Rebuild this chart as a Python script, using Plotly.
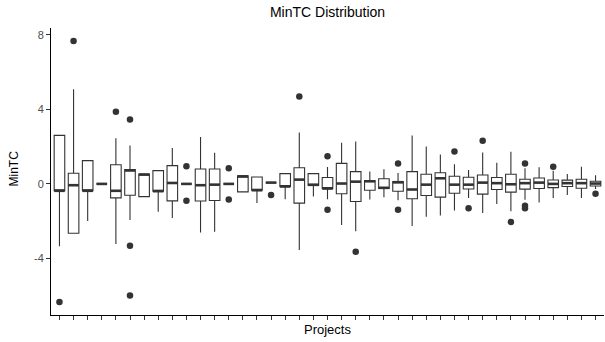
import plotly.graph_objects as go

projects = list(range(1, 40))
q1 = [-0.37, -2.65, -0.37, 0.0, -0.75, -0.61, -0.68, -0.39, -0.91, 0.0,
      -0.92, -0.89, 0.0, -0.43, -0.34, 0.07, -0.14, -1.03, -0.08, -0.25,
      -0.53, -0.94, -0.34, -0.25, -0.39, -0.80, -0.62, -0.71, -0.50, -0.27,
      -0.55, -0.30, -0.44, -0.28, -0.25, -0.20, -0.14, -0.23, -0.11]
median = [-0.37, -0.07, -0.37, 0.0, -0.37, 0.72, 0.50, -0.39, 0.05, 0.0,
          -0.07, -0.04, 0.0, 0.40, -0.34, 0.07, -0.14, 0.23, -0.05, -0.25,
          0.02, 0.12, 0.14, -0.21, 0.09, -0.30, -0.04, 0.30, -0.04, -0.04,
          0.07, 0.04, -0.02, 0.04, 0.07, 0.00, 0.04, 0.04, 0.02]
q3 = [2.60, 0.57, 1.25, 0.0, 1.03, 0.77, 0.53, 0.71, 0.98, 0.0,
      0.80, 0.80, 0.0, 0.43, 0.37, 0.07, 0.55, 0.87, 0.55, 0.34,
      1.10, 0.66, 0.18, 0.28, 0.12, 0.66, 0.52, 0.60, 0.41, 0.36,
      0.48, 0.34, 0.52, 0.25, 0.32, 0.21, 0.20, 0.25, 0.14]
lower = [-3.34, -2.65, -1.99, 0.0, -3.22, -1.94, -0.68, -1.49, -1.83, 0.0,
         -2.61, -2.56, 0.0, -0.43, -1.03, 0.07, -0.82, -3.54, -0.68, -0.82,
         -2.20, -2.54, -0.84, -0.71, -0.87, -2.26, -1.76, -1.69, -1.42, -0.76,
         -1.56, -1.08, -1.47, -0.85, -1.00, -0.76, -0.59, -0.76, -0.28]
upper = [2.60, 5.07, 1.25, 0.0, 2.45, 2.06, 0.53, 0.71, 1.92, 0.0,
         2.51, 1.67, 0.0, 0.43, 0.37, 0.07, 0.55, 2.75, 0.55, 0.91,
         2.20, 2.28, 0.66, 0.78, 0.59, 2.60, 2.01, 1.58, 1.05, 0.75,
         1.69, 1.14, 1.72, 0.84, 0.89, 0.71, 0.53, 0.92, 0.46]

outlier_project = [1, 2, 5, 6, 6, 6, 10, 10, 13, 13, 16, 18, 20, 20, 22,
                   25, 25, 29, 30, 31, 33, 34, 34, 34, 36, 39]
outlier_value = [-6.33, 7.66, 3.87, 3.45, -3.31, -5.99, 0.94, -0.91, 0.84, -0.84,
                 -0.60, 4.68, 1.48, -1.39, -3.64, 1.10, -1.39, 1.74, -1.30, 2.31,
                 -2.04, 1.10, -1.17, -1.30, 0.92, -0.53]

y_ticks = [-4, 0, 4, 8]
title_text = "MinTC Distribution"
x_title = "Projects"
y_title = "MinTC"

box_w = 0.75
dark = "#333333"
font_family = "Liberation Sans, Arial, Helvetica, sans-serif"

fig = go.Figure()
fig.add_trace(go.Box(
    x=projects, q1=q1, median=median, q3=q3,
    lowerfence=lower, upperfence=upper,
    width=box_w, whiskerwidth=0,
    fillcolor="white", line=dict(color=dark, width=1.1),
    boxpoints=False, showlegend=False, hoverinfo="skip",
))

# thicker median segments (ggplot style)
mx, my = [], []
for p, m in zip(projects, median):
    mx += [p - box_w / 2, p + box_w / 2, None]
    my += [m, m, None]
fig.add_trace(go.Scatter(x=mx, y=my, mode="lines",
                         line=dict(color=dark, width=2.6),
                         showlegend=False, hoverinfo="skip"))

fig.add_trace(go.Scatter(x=outlier_project, y=outlier_value, mode="markers",
                         marker=dict(color=dark, size=6.5),
                         showlegend=False, hoverinfo="skip"))

all_vals = lower + upper + outlier_value
lo, hi = min(all_vals), max(all_vals)
pad = (hi - lo) * 0.05

W, H = 605, 342
fig.update_layout(
    width=W, height=H,
    margin=dict(l=51, r=1, t=28, b=27, autoexpand=False),
    paper_bgcolor="white", plot_bgcolor="white",
    font=dict(family=font_family, color="black"),
    title=dict(text=title_text, x=0.5, xref="paper", xanchor="center",
               yref="container", y=1 - 12 / H, yanchor="middle",
               font=dict(size=14, color="black")),
    xaxis=dict(range=[0.4, len(projects) + 0.6], tickmode="array",
               tickvals=projects, ticktext=[""] * len(projects),
               ticks="outside", ticklen=4, tickcolor=dark, tickwidth=1,
               showline=True, linecolor="black", linewidth=1,
               showgrid=False, zeroline=False, automargin=False),
    yaxis=dict(range=[lo - pad, hi + pad], tickmode="array", tickvals=y_ticks,
               ticktext=[str(t) for t in y_ticks],
               ticks="outside", ticklen=4, tickcolor=dark, tickwidth=1,
               tickfont=dict(size=11, color="#4d4d4d"),
               showline=True, linecolor="black", linewidth=1,
               showgrid=False, zeroline=False, automargin=False),
    annotations=[
        dict(text=x_title, xref="paper", yref="paper", x=0.5, y=0,
             xanchor="center", yanchor="top", yshift=-5, showarrow=False,
             font=dict(size=13, color="black")),
        dict(text=y_title, xref="paper", yref="paper", x=0, y=0.5,
             xanchor="center", yanchor="middle", xshift=-38, yshift=3,
             textangle=-90, showarrow=False,
             font=dict(size=12, color="black")),
    ],
)

fig.write_html("out.html",
               config={"displayModeBar": False},
               post_script="document.body.style.margin='0';document.body.style.overflow='hidden';")
